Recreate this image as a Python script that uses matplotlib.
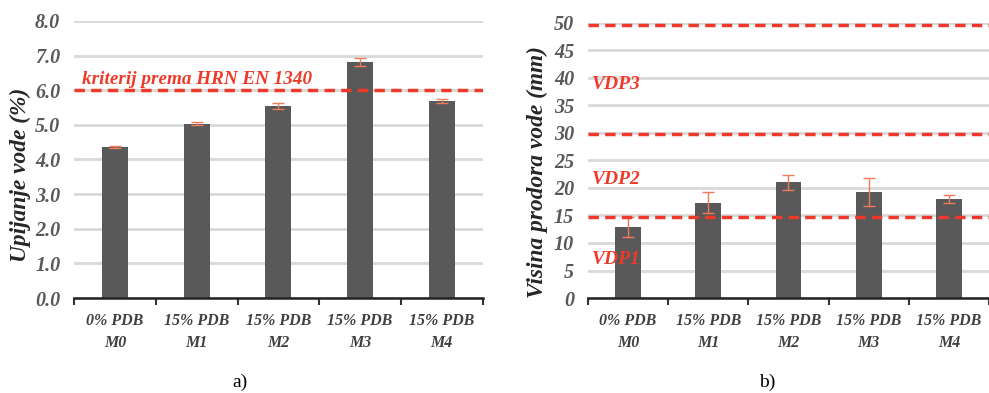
import matplotlib.pyplot as plt
import numpy as np

categories = ["0% PDB\nM0", "15% PDB\nM1", "15% PDB\nM2", "15% PDB\nM3", "15% PDB\nM4"]
upijanje = [4.35, 5.03, 5.55, 6.82, 5.70]
upijanje_err = [0.03, 0.04, 0.08, 0.12, 0.06]
kriterij = 6.0
prodor = [12.9, 17.3, 21.0, 19.3, 18.0]
prodor_err = [1.8, 1.9, 1.3, 2.5, 0.8]
vdp_limits = [14.8, 29.9, 49.6]
vdp_labels = ["VDP1", "VDP2", "VDP3"]
vdp_label_y = [7.0, 21.5, 38.8]

bar_col = "#595959"
red = "#ee3a2a"
err_col = "#f07a5a"
plt.rcParams['font.family'] = ['Liberation Serif', 'DejaVu Serif']

fig = plt.figure(figsize=(9.89, 3.93), dpi=100)
ax1 = fig.add_axes([0.075, 0.2417, 0.413, 0.705])
ax2 = fig.add_axes([0.5945, 0.2417, 0.4055, 0.700])

def style(ax, ymax, step, fmt):
    x = np.arange(len(categories))
    ax.set_xlim(-0.5, len(categories) - 0.5)
    ax.set_ylim(0, ymax)
    ax.set_yticks(np.arange(0, ymax + step / 2, step))
    ax.set_yticklabels([fmt.format(v) for v in np.arange(0, ymax + step / 2, step)],
                       fontsize=14.5, fontstyle='italic', fontweight='bold', color='#595959')
    ax.set_xticks(x)
    ax.set_xticklabels(categories, fontsize=11.5, fontstyle='italic', fontweight='bold',
                       color='#404040', linespacing=1.5)
    ax.set_xticks(np.arange(-0.5, len(categories), 1), minor=True)
    ax.tick_params(axis='x', which='major', length=0, pad=11)
    ax.tick_params(axis='x', which='minor', length=5, width=1.5, color='#333333')
    ax.tick_params(axis='y', length=0, pad=10)
    for s in ['top', 'right', 'left']:
        ax.spines[s].set_visible(False)
    ax.spines['bottom'].set_linewidth(1.8)
    ax.spines['bottom'].set_color('#222222')
    ax.yaxis.grid(True, color='#d9d9d9', linewidth=2)
    ax.set_axisbelow(True)

x = np.arange(len(categories))
ax1.bar(x, upijanje, width=0.32, color=bar_col, zorder=2)
ax1.errorbar(x, upijanje, yerr=upijanje_err, fmt='none', ecolor=err_col, elinewidth=1,
             capsize=4, capthick=1, zorder=3)
style(ax1, 8, 1, "{:.1f}")
ax1.axhline(kriterij, color=red, linestyle=(0, (3, 1.8)), linewidth=2.5, zorder=4)
ax1.text(0.02, kriterij + 0.32, "kriterij prema HRN EN 1340", transform=ax1.get_yaxis_transform(),
         color=red, fontsize=13.8, fontstyle='italic', fontweight='bold', ha='left', va='center')

ax2.bar(x, prodor, width=0.32, color=bar_col, zorder=2)
ax2.errorbar(x, prodor, yerr=prodor_err, fmt='none', ecolor=err_col, elinewidth=1,
             capsize=4, capthick=1, zorder=3)
style(ax2, 50, 5, "{:.0f}")
for lim in vdp_limits:
    ax2.axhline(lim, color=red, linestyle=(0, (3, 1.8)), linewidth=2.5, zorder=4)
for lab, yy in zip(vdp_labels, vdp_label_y):
    ax2.text(0.01, yy, lab, transform=ax2.get_yaxis_transform(), color=red, fontsize=14,
             fontstyle='italic', fontweight='bold', ha='left', va='center', zorder=5)

# y labels, font size fitted to the length seen in the reference (pixels)
renderer = fig.canvas.get_renderer()
for ax, txt, length, cx, cy in [(ax1, "Upijanje vode (%)", 174, -0.132, 0.444),
                                (ax2, "Visina prodora vode (mm)", 252, -0.127, 0.458)]:
    lab = ax.set_ylabel(txt, fontsize=16, fontstyle='italic', fontweight='bold', color='#262626')
    h = lab.get_window_extent(renderer).height
    lab.set_fontsize(16 * length / h)
    lab.set_verticalalignment('center')
    ax.yaxis.set_label_coords(cx, cy)

fig.text(0.243, 0.005, "a)", fontsize=14, ha='center', va='bottom')
fig.text(0.776, 0.005, "b)", fontsize=14, ha='center', va='bottom')

fig.savefig("out.png", dpi=100)
